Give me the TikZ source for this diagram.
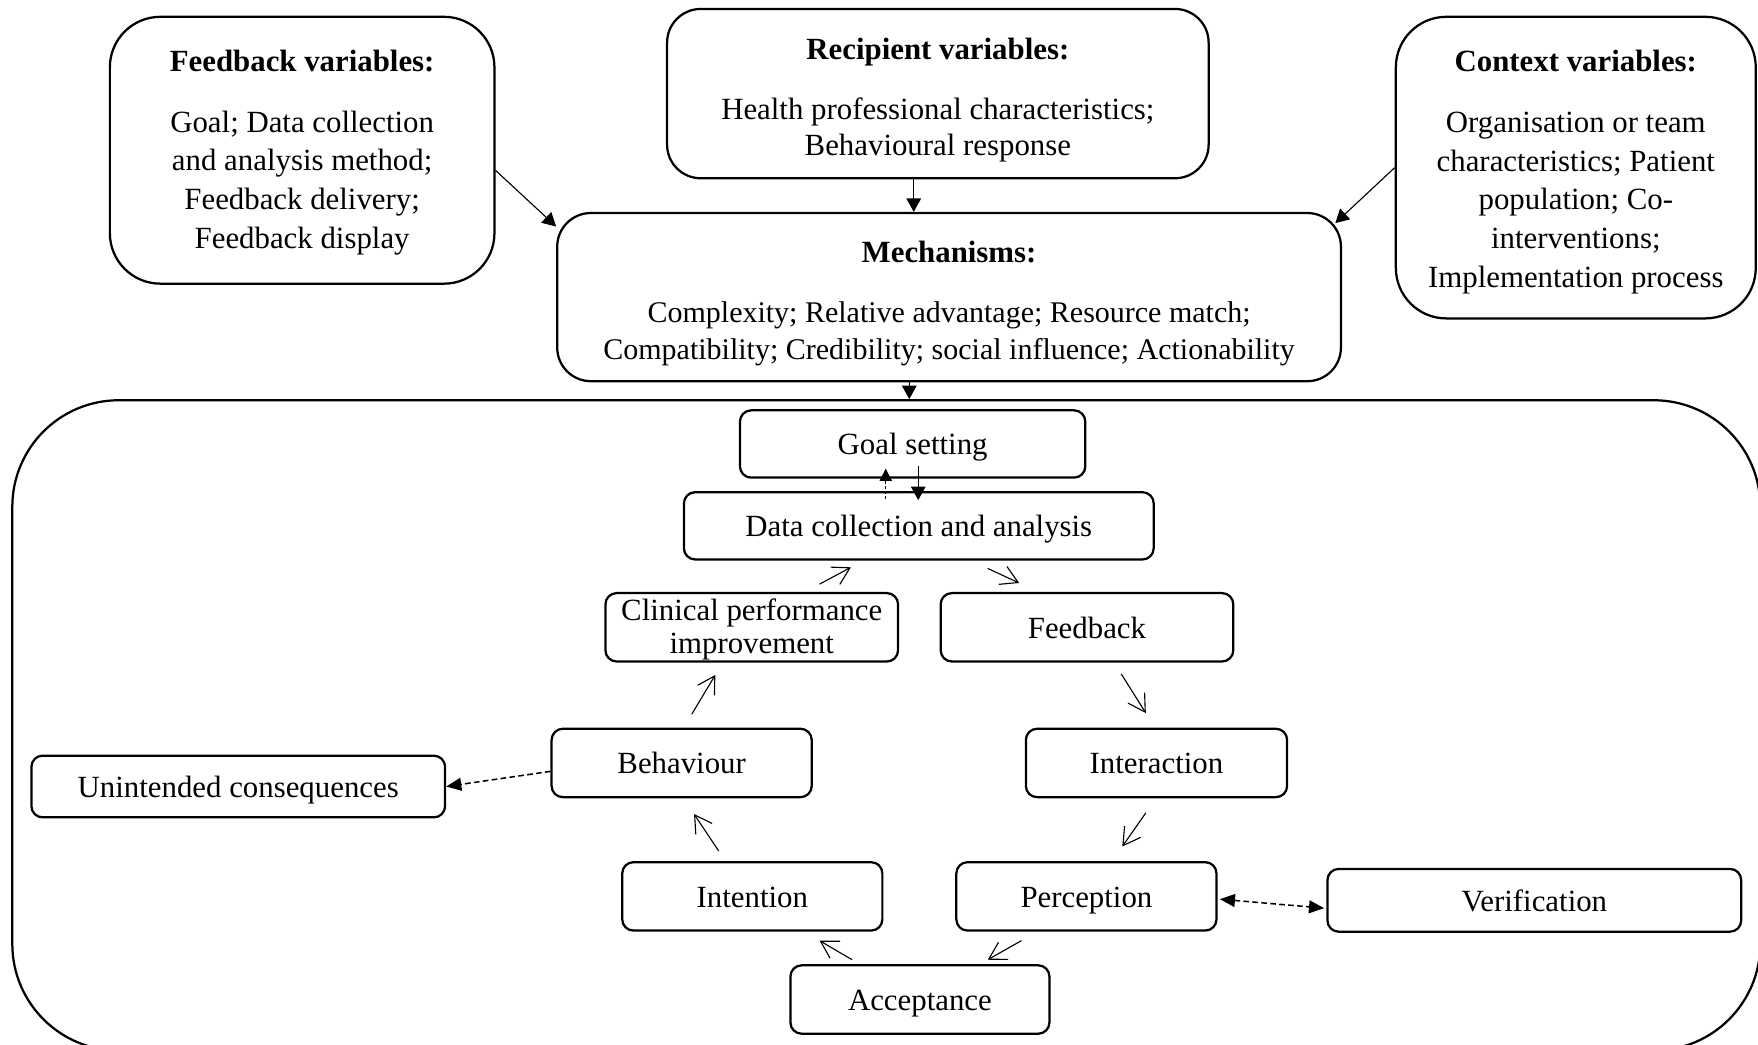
\documentclass[tikz,border=0pt]{standalone}
\usepackage{fontspec}
\setmainfont{Liberation Serif}
\usetikzlibrary{arrows.meta,calc}
% invisible rule that sets the height of a first text line
\newcommand\firstline[1]{\vrule height #1 width 0pt\relax}
\begin{document}
\begin{tikzpicture}[x=0.4pt,y=-0.4pt,
  font=\fontsize{11}{13.8}\selectfont,
  varbox/.style={draw, line width=0.8pt, rounded corners=#1, align=center, inner sep=0pt},
  varbox/.default=18pt,
  stagebox/.style={draw, line width=0.8pt, rounded corners=4pt, align=center, inner sep=0pt,
                minimum height=24.4pt},
  stage/.style={stagebox, text height=9.5pt, text depth=1.8pt},
  solidarrow/.style={line width=0.4pt, -{Triangle[length=4.8pt,width=5.2pt]}},
  openarrow/.style={line width=0.4pt, -{Straight Barb[length=6pt,width=7pt]}},
  dashhead/.tip={Triangle[length=5.4pt,width=4.6pt]},
  dasharrow/.style={line width=0.55pt, dash pattern=on 2pt off 1.2pt, -dashhead},
  dotarrow/.style={line width=0.5pt, dash pattern=on 1pt off 0.8pt, -{Triangle[length=4.4pt,width=4.4pt]}},
]
\useasboundingbox (0,0) rectangle (1568,932);

% upper row: variable groups and mechanisms
\node[varbox=18pt, minimum width=137.2pt, minimum height=95.2pt] (fbvar) at (269.5,134)
  {\firstline{9.2pt}\textbf{Feedback variables:}\\[7.8pt] Goal; Data collection\\ and analysis method;\\ Feedback delivery;\\ Feedback display};
\node[varbox=12pt, minimum width=193.2pt, minimum height=60.4pt] (recip) at (836.5,83.5)
  {\firstline{12.2pt}\textbf{Recipient variables:}\\[7.8pt] Health professional characteristics;\\[-1pt] Behavioural response};
\node[varbox=18pt, minimum width=128.4pt, minimum height=107.6pt] (context) at (1405.5,149.5)
  {\firstline{10.8pt}\textbf{Context variables:}\\[7.8pt] Organisation or team\\ characteristics; Patient\\ population; Co-\\ interventions;\\ Implementation process};
\node[varbox=12pt, minimum width=279.6pt, minimum height=60pt, font=\fontsize{10.7}{13.8}\selectfont] (mech) at (846.5,265)
  {\firstline{12.2pt}\textbf{\fontsize{11}{13.8}\selectfont Mechanisms:}\\[7.8pt] Complexity; Relative advantage; Resource match;\\[-0.6pt] Compatibility; Credibility; social influence; Actionability};

% feedback cycle frame
\node[draw, line width=0.8pt, rounded corners=38pt, inner sep=0pt,
      minimum width=623.6pt, minimum height=232pt] (outer) at (790.5,647) {};

% cycle stages
\node[stage, minimum width=123.2pt, minimum height=24pt] (goal) at (814,396) {Goal setting};
\node[stage, minimum width=167.6pt, minimum height=24pt] (data) at (819.5,469) {Data collection and analysis};
\node[stagebox, minimum width=104.4pt, font=\fontsize{11}{12}\selectfont] (clin) at (670.5,559.5)
  {\firstline{9.2pt}Clinical performance\\ improvement};
\node[stage, minimum width=104.4pt] (feedb) at (969.5,559.5) {Feedback};
\node[stage, minimum width=92.8pt] (behav) at (608,680.5) {Behaviour};
\node[stage, minimum width=93.2pt] (inter) at (1031.5,680.5) {Interaction};
\node[stage, minimum width=147.6pt, minimum height=22pt] (unint) at (212.5,701.5) {Unintended consequences};
\node[stage, minimum width=92.8pt] (inten) at (671,799.5) {Intention};
\node[stage, minimum width=92.8pt] (perc) at (969,799.5) {Perception};
\node[stage, minimum width=147.6pt, minimum height=22.4pt] (verif) at (1368.5,803) {Verification};
\node[stage, minimum width=92.4pt] (accept) at (820.5,891.5) {Acceptance};

% influences on the mechanisms
\draw[solidarrow] ($(fbvar.east)+(0,18)$) -- ($(mech.north west)+(0,13)$);
\draw[solidarrow] ($(recip.south)+(-21.5,0)$) -- ($(mech.north)+(-31.5,0)$);
\draw[solidarrow] (context.west) -- ($(mech.north east)+(-6,10)$);
\draw[solidarrow] ($(mech.south)+(-35.5,0)$) -- ($(outer.north)+(20.5,0)$);

% goal setting and data collection
\draw[dotarrow] ($(data.north)+(-29.5,7)$) -- ($(goal.south)+(-24,-9)$);
\draw[solidarrow] ($(goal.south)+(5,-11)$) -- ($(data.north)+(-0.5,8)$);

% the cycle
\draw[openarrow] ($(clin.north)+(60.5,-7)$) -- ($(data.south)+(-60.5,6)$);
\draw[openarrow] ($(data.south)+(61.5,7)$) -- ($(feedb.north)+(-60.5,-8)$);
\draw[openarrow] ($(feedb.south)+(30.5,10)$) -- ($(inter.north)+(-9.5,-13)$);
\draw[openarrow] ($(inter.south)+(-9.5,13)$) -- ($(perc.north)+(32,-13)$);
\draw[openarrow] ($(perc.south)+(-58,8)$) -- ($(accept.north)+(60.5,-4)$);
\draw[openarrow] ($(accept.north)+(-60.5,-4)$) -- ($(inten.south)+(60,8)$);
\draw[openarrow] ($(inten.north)+(-30,-9)$) -- ($(behav.south)+(11,14)$);
\draw[openarrow] ($(behav.north)+(9,-12)$) -- ($(clin.south)+(-32.5,11)$);

% side branches
\draw[dasharrow] ($(behav.west)+(0,7.5)$) -- (unint.east);
\draw[dasharrow, dashhead-dashhead] ($(perc.east)+(2,2.5)$) -- ($(verif.west)+(-2,7)$);
\end{tikzpicture}
\end{document}
